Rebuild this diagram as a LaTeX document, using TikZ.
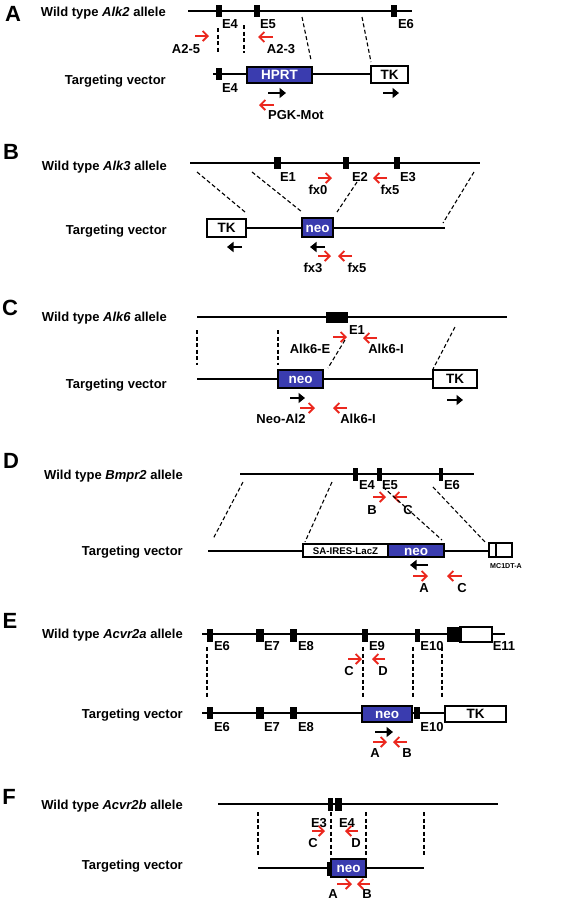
\documentclass[tikz,border=0pt]{standalone}
\usepackage{fontspec}
\setmainfont{Liberation Sans}
\usetikzlibrary{arrows.meta}
\definecolor{blu}{RGB}{58,60,175}
\definecolor{rd}{RGB}{235,40,30}
\newcommand{\exon}[4]{\fill (#1,#2) rectangle (#3,#4);}
\newcommand{\gbox}[7]{\draw[line width=1.4pt, fill=#5] (#1,#2) rectangle (#3,#4);
  \node[#6] at ({(#1+#3)/2},{(#2+#4)/2}) {#7};}
\tikzset{
  gene/.style={line width=2pt},
  dsh/.style={line width=1.1pt, dash pattern=on 4pt off 2.5pt},
  rp/.style={draw=rd, line width=1.8pt, -{Straight Barb[length=5pt,width=10pt,line width=1.8pt]}},
  bp/.style={draw=black, line width=2.4pt, -{Triangle[length=6.5pt,width=10pt]}},
  lab/.style={font=\fontsize{13}{15}\selectfont\bfseries, inner sep=0pt, text height=9.3pt, text depth=0pt},
  plab/.style={font=\fontsize{22}{24}\selectfont\bfseries, inner sep=0pt, text height=15.7pt, text depth=0pt},
  btxt/.style={font=\fontsize{13.5}{15}\selectfont\bfseries, text=white, inner sep=0pt, text height=9.7pt, text depth=0pt},
  ktxt/.style={font=\fontsize{13.5}{15}\selectfont\bfseries, text=black, inner sep=0pt, text height=9.7pt, text depth=0pt},
  stxt/.style={font=\fontsize{9.7}{11}\selectfont\bfseries, text=black, inner sep=0pt, text height=7pt, text depth=0pt},
  ttxt/.style={font=\fontsize{7.1}{8}\selectfont\bfseries, text=black, inner sep=0pt, text height=5.1pt, text depth=0pt},
}
\begin{document}
\begin{tikzpicture}[x=1pt,y=-1pt]
\useasboundingbox[fill=white] (0,0) rectangle (575,900);
% ================= A
\node[plab] (pA) at (13,14) {A};
\node[lab, anchor=east] (wA) at (166,12) {Wild type \textit{Alk2} allele};
\draw[gene] (188,11) -- (412,11);
\exon{216}{5}{222}{17} \exon{254}{5}{260}{17} \exon{391}{5}{397}{17}
\node[lab] at (230,24) {E4};
\node[lab] at (268,24) {E5};
\node[lab] at (406,24) {E6};
\draw[dsh] (218,28) -- (218,53);
\draw[dsh] (244,25) -- (244,53);
\draw[dsh] (302,17) -- (311,60);
\draw[dsh] (362,17) -- (371,62);
\draw[rp] (195,36) -- (209,36);
\draw[rp] (273,37) -- (258,37);
\node[lab] at (186,49) {A2-5};
\node[lab] at (281,49) {A2-3};
\node[lab, anchor=east] (tA) at (166,80) {Targeting vector};
\draw[gene] (213,74) -- (371,74);
\exon{216}{68}{222}{80}
\gbox{247}{67}{312}{83}{blu}{btxt}{HPRT}
\gbox{371}{66}{408}{83}{white}{ktxt}{TK}
\node[lab] at (230,88) {E4};
\draw[bp] (268,93) -- (286,93);
\draw[bp] (383,93) -- (399,93);
\draw[rp] (274,105) -- (259,105);
\node[lab] at (296,115) {PGK-Mot};
% ================= B
\node[plab] (pB) at (11,152) {B};
\node[lab, anchor=east] (wB) at (167,166) {Wild type \textit{Alk3} allele};
\draw[gene] (190,163) -- (480,163);
\exon{274}{157}{281}{169} \exon{343}{157}{349}{169} \exon{394}{157}{400}{169}
\node[lab] at (288,177) {E1};
\node[lab] at (360,177) {E2};
\node[lab] at (408,177) {E3};
\draw[rp] (318,178) -- (332,178);
\node[lab] at (318,190) {fx0};
\draw[rp] (387,178) -- (373,178);
\node[lab] at (390,190) {fx5};
\draw[dsh] (197,172) -- (245,212);
\draw[dsh] (252,172) -- (302,212);
\draw[dsh] (357,182) -- (337,212);
\draw[dsh] (474,172) -- (443,223);
\node[lab, anchor=east] (tB) at (167,230) {Targeting vector};
\draw[gene] (245,228) -- (445,228);
\gbox{207}{219}{246}{237}{white}{ktxt}{TK}
\gbox{302}{218}{333}{237}{blu}{btxt}{neo}
\draw[bp] (242,247) -- (227,247);
\draw[bp] (325,247) -- (310,247);
\draw[rp] (318,256) -- (331,256);
\node[lab] at (313,268) {fx3};
\draw[rp] (352,256) -- (338,256);
\node[lab] at (357,268) {fx5};
% ================= C
\node[plab] (pC) at (10,308) {C};
\node[lab, anchor=east] (wC) at (167,317) {Wild type \textit{Alk6} allele};
\draw[gene] (197,317) -- (507,317);
\exon{326}{312}{348}{323}
\node[lab] at (357,330) {E1};
\draw[dsh] (197,330) -- (197,365);
\draw[dsh] (278,330) -- (278,365);
\draw[dsh] (345,340) -- (328,368);
\draw[dsh] (455,327) -- (433,369);
\draw[rp] (333,337) -- (347,337);
\node[lab] at (310,349) {Alk6-E};
\draw[rp] (377,338) -- (363,338);
\node[lab] at (386,349) {Alk6-I};
\node[lab, anchor=east] (tC) at (167,384) {Targeting vector};
\draw[gene] (197,379) -- (433,379);
\gbox{278}{370}{323}{388}{blu}{btxt}{neo}
\gbox{433}{370}{477}{388}{white}{ktxt}{TK}
\draw[bp] (290,398) -- (305,398);
\draw[bp] (447,400) -- (463,400);
\draw[rp] (300,408) -- (315,408);
\node[lab] at (281,419) {Neo-Al2};
\draw[rp] (347,408) -- (333,408);
\node[lab] at (358,419) {Alk6-I};
% ================= D
\node[plab] (pD) at (11,461) {D};
\node[lab, anchor=east] (wD) at (183,475) {Wild type \textit{Bmpr2} allele};
\draw[gene] (240,474) -- (474,474);
\exon{353}{468}{358}{481} \exon{377}{468}{382}{481} \exon{439}{468}{443}{481}
\node[lab] at (367,485) {E4};
\node[lab] at (390,485) {E5};
\node[lab] at (452,485) {E6};
\draw[rp] (373,497) -- (386,497);
\node[lab] at (372,510) {B};
\draw[rp] (407,497) -- (393,497);
\node[lab] at (408,510) {C};
\draw[dsh] (243,482) -- (213,539);
\draw[dsh] (332,482) -- (305,542);
\draw[dsh] (383,487) -- (442,540);
\draw[dsh] (433,487) -- (485,542);
\node[lab, anchor=east] (tD) at (183,551) {Targeting vector};
\draw[gene] (208,551) -- (489,551);
\gbox{303}{544}{388}{557}{white}{stxt}{SA-IRES-LacZ}
\gbox{388}{544}{444}{557}{blu}{btxt}{neo}
\draw[line width=1.4pt, fill=white] (489,543) rectangle (512,557);
\draw[line width=1.4pt] (496,543) -- (496,557);
\node[ttxt] at (506,566) {MC1DT-A};
\draw[bp] (428,565) -- (410,565);
\draw[rp] (413,576) -- (428,576);
\node[lab] at (424,588) {A};
\draw[rp] (462,576) -- (447,576);
\node[lab] at (462,588) {C};
% ================= E
\node[plab] (pE) at (10,621) {E};
\node[lab, anchor=east] (wE) at (183,634) {Wild type \textit{Acvr2a} allele};
\draw[gene] (202,634) -- (505,634);
\exon{207}{629}{213}{642} \exon{256}{629}{264}{642} \exon{290}{629}{297}{642}
\exon{362}{629}{368}{642} \exon{415}{629}{420}{642}
\draw[line width=1.4pt, fill=white] (460,627) rectangle (492,642);
\fill (447,627) rectangle (462,642);
\node[lab] at (222,646) {E6};
\node[lab] at (272,646) {E7};
\node[lab] at (306,646) {E8};
\node[lab] at (377,646) {E9};
\node[lab] at (432,646) {E10};
\node[lab] at (504,646) {E11};
\draw[dsh] (207,647) -- (207,698);
\draw[dsh] (363,647) -- (363,698);
\draw[dsh] (413,647) -- (413,698);
\draw[dsh] (442,647) -- (442,698);
\draw[rp] (348,659) -- (362,659);
\node[lab] at (349,671) {C};
\draw[rp] (385,659) -- (372,659);
\node[lab] at (383,671) {D};
\node[lab, anchor=east] (tE) at (183,714) {Targeting vector};
\draw[gene] (202,713) -- (445,713);
\exon{207}{707}{213}{719} \exon{256}{707}{264}{719} \exon{290}{707}{297}{719}
\exon{414}{707}{420}{719}
\gbox{362}{706}{412}{722}{blu}{btxt}{neo}
\gbox{445}{706}{506}{722}{white}{ktxt}{TK}
\node[lab] at (222,727) {E6};
\node[lab] at (272,727) {E7};
\node[lab] at (306,727) {E8};
\node[lab] at (432,727) {E10};
\draw[bp] (375,732) -- (393,732);
\draw[rp] (373,742) -- (387,742);
\node[lab] at (375,753) {A};
\draw[rp] (407,742) -- (393,742);
\node[lab] at (407,753) {B};
% ================= F
\node[plab] (pF) at (9,797) {F};
\node[lab, anchor=east] (wF) at (183,805) {Wild type \textit{Acvr2b} allele};
\draw[gene] (218,804) -- (498,804);
\exon{328}{798}{333}{811} \exon{335}{798}{342}{811}
\node[lab] at (319,823) {E3};
\node[lab] at (347,823) {E4};
\draw[dsh] (258,812) -- (258,855);
\draw[dsh] (331,812) -- (331,855);
\draw[dsh] (366,812) -- (366,855);
\draw[dsh] (424,812) -- (424,855);
\draw[rp] (312,831) -- (325,831);
\node[lab] at (313,843) {C};
\draw[rp] (358,831) -- (345,831);
\node[lab] at (356,843) {D};
\node[lab, anchor=east] (tF) at (183,865) {Targeting vector};
\draw[gene] (258,868) -- (424,868);
\exon{327}{862}{333}{876}
\gbox{331}{859}{366}{877}{blu}{btxt}{neo}
\draw[rp] (337,884) -- (352,884);
\node[lab] at (333,894) {A};
\draw[rp] (370,884) -- (357,884);
\node[lab] at (367,894) {B};
\end{tikzpicture}
\end{document}
